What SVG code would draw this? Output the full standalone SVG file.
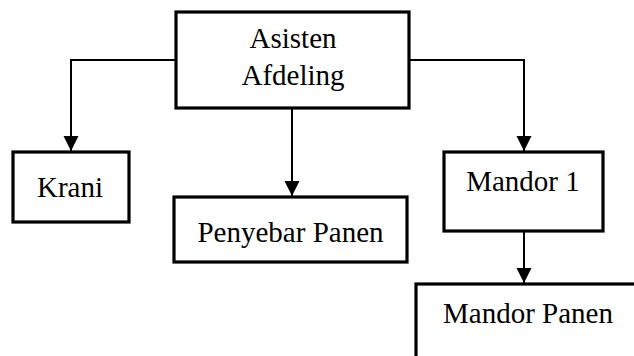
<svg xmlns="http://www.w3.org/2000/svg" width="634" height="356" viewBox="0 0 634 356">
  <style>
    .box { fill: #ffffff; stroke: #000000; stroke-width: 3.2; }
    .lbl { font-family: "Liberation Serif", "Times New Roman", serif; font-size: 29px; fill: #000000; text-anchor: middle; }
    .link { fill: none; stroke: #000000; stroke-width: 2; }
  </style>
  <defs>
    <marker id="arrow" markerUnits="userSpaceOnUse" markerWidth="16" markerHeight="16" refX="15" refY="7.5" orient="auto">
      <path d="M0,0 L15,7.5 L0,15 Z" fill="#000000"/>
    </marker>
  </defs>

  <rect width="634" height="356" fill="#ffffff"/>

  <g id="connectors">
    <path class="link" d="M176,60 H71 V151" marker-end="url(#arrow)"/>
    <path class="link" d="M409,60 H524 V151" marker-end="url(#arrow)"/>
    <path class="link" d="M292,108 V196" marker-end="url(#arrow)"/>
    <path class="link" d="M524,231 V283" marker-end="url(#arrow)"/>
  </g>

  <g id="asisten-afdeling">
    <rect class="box" x="176" y="12" width="233" height="96"/>
    <text class="lbl" x="293" y="48">Asisten</text>
    <text class="lbl" x="293" y="85">Afdeling</text>
  </g>

  <g id="krani">
    <rect class="box" x="13" y="152" width="116" height="70"/>
    <text class="lbl" x="70" y="197">Krani</text>
  </g>

  <g id="penyebar-panen">
    <rect class="box" x="174" y="197" width="233" height="65"/>
    <text class="lbl" x="290.5" y="242">Penyebar Panen</text>
  </g>

  <g id="mandor-1">
    <rect class="box" x="444" y="152" width="159" height="79"/>
    <text class="lbl" x="523" y="191">Mandor 1</text>
  </g>

  <g id="mandor-panen">
    <rect class="box" x="416" y="284" width="240" height="100"/>
    <text class="lbl" x="528" y="323">Mandor Panen</text>
  </g>
</svg>
